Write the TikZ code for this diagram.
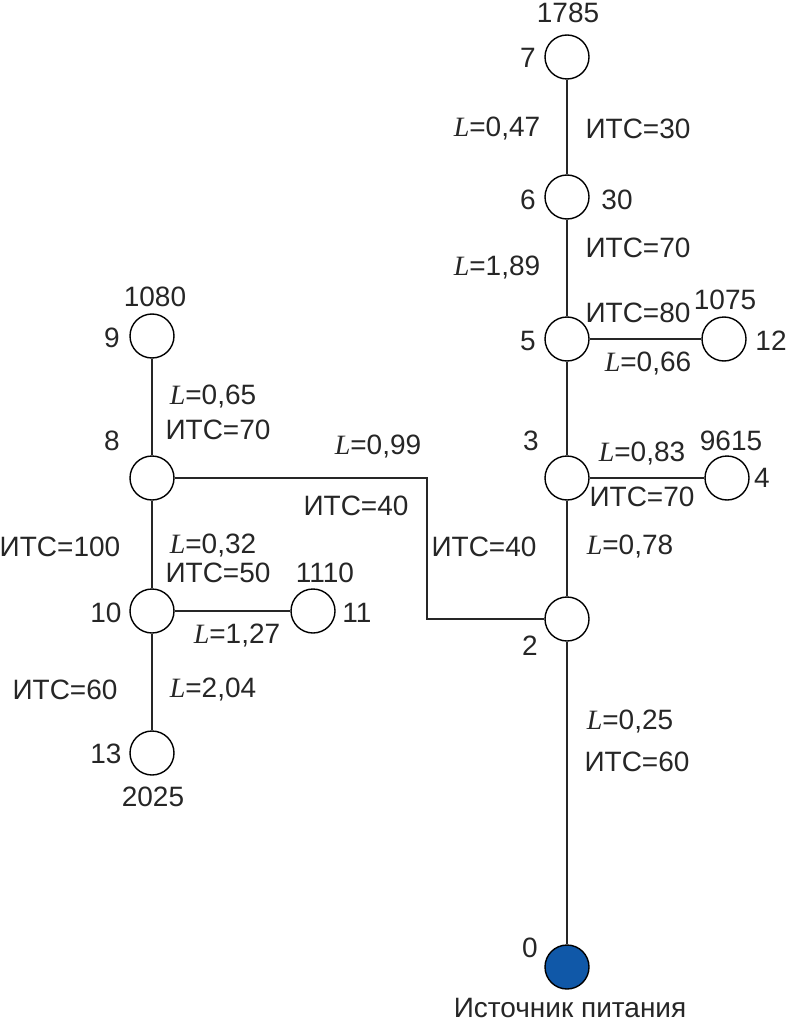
\documentclass[tikz,border=0pt]{standalone}
\usepackage{fontspec}
\setmainfont{Liberation Sans}
\newfontfamily\lserif{Liberation Serif}
\newcommand{\Lv}{{\lserif\itshape L}}
\definecolor{srcblue}{RGB}{16,88,168}
\begin{document}
\begin{tikzpicture}[x=1pt,y=-1pt,
  nd/.style={circle,draw=black,line width=1.4pt,fill=white,minimum size=44pt,inner sep=0pt},
  src/.style={nd,fill=srcblue},
  lbl/.style={inner sep=0pt,font=\fontsize{28}{32}\selectfont,text=black!85},
  wire/.style={line width=1.4pt,draw=black!85}]
\useasboundingbox (0,0) rectangle (786,1024);
% nodes
\node[nd] (n7) at (567,57) {};
\node[nd] (n6) at (567,197) {};
\node[nd] (n5) at (567,339) {};
\node[nd] (n12) at (724,339) {};
\node[nd] (n3) at (567,478) {};
\node[nd] (n4) at (727,478) {};
\node[nd] (n2) at (567,619) {};
\node[src] (n0) at (567,967) {};
\node[nd] (n9) at (152,336) {};
\node[nd] (n8) at (152,478) {};
\node[nd] (n10) at (152,611) {};
\node[nd] (n11) at (313,611) {};
\node[nd] (n13) at (152,753) {};
\coordinate (b1) at (427,478);
\coordinate (b2) at (427,619);
% wires
\draw[wire] (n7) -- (n6);
\draw[wire] (n6) -- (n5);
\draw[wire] (n5) -- (n12);
\draw[wire] (n5) -- (n3);
\draw[wire] (n3) -- (n4);
\draw[wire] (n3) -- (n2);
\draw[wire] (n2) -- (n0);
\draw[wire] (n9) -- (n8);
\draw[wire] (n8) -- (n10);
\draw[wire] (n10) -- (n11);
\draw[wire] (n10) -- (n13);
\draw[wire] (n8) -- (b1) -- (b2) -- (n2);
% labels
\node[lbl] (t1785) at (568,13) {1785};
\node[lbl] (t7) at (528,58) {7};
\node[lbl] (tL047) at (497,129) {\Lv=0,47};
\node[lbl] (tI30) at (638,129) {ИТС=30};
\node[lbl] (t6) at (528,200) {6};
\node[lbl] (t30) at (617,200) {30};
\node[lbl] (tI70a) at (638,248) {ИТС=70};
\node[lbl] (tL189) at (497,268) {\Lv=1,89};
\node[lbl] (tI80) at (638,313) {ИТС=80};
\node[lbl] (t1075) at (725,300) {1075};
\node[lbl] (t5) at (528,341) {5};
\node[lbl] (t12) at (771,341) {12};
\node[lbl] (tL066) at (648,364) {\Lv=0,66};
\node[lbl] (t3) at (531,441) {3};
\node[lbl] (tL083) at (642,454) {\Lv=0,83};
\node[lbl] (t9615) at (731,441) {9615};
\node[lbl] (t4) at (762,478) {4};
\node[lbl] (tI70b) at (642,497) {ИТС=70};
\node[lbl] (tL078) at (630,547) {\Lv=0,78};
\node[lbl] (tI40r) at (484,547) {ИТС=40};
\node[lbl] (t2) at (530,646) {2};
\node[lbl] (tL025) at (630,722) {\Lv=0,25};
\node[lbl] (tI60r) at (637,762) {ИТС=60};
\node[lbl] (t0) at (530,948) {0};
\node[lbl] (tsrc) at (570,1008) {Источник питания};
\node[lbl] (t1080) at (155,297) {1080};
\node[lbl] (t9) at (112,338) {9};
\node[lbl] (tL065) at (213,397) {\Lv=0,65};
\node[lbl] (tI70c) at (218,430) {ИТС=70};
\node[lbl] (t8) at (112,441) {8};
\node[lbl] (tL099) at (378,447) {\Lv=0,99};
\node[lbl] (tI40l) at (356,506) {ИТС=40};
\node[lbl] (tI100) at (60,547) {ИТС=100};
\node[lbl] (tL032) at (213,546) {\Lv=0,32};
\node[lbl] (tI50) at (218,573) {ИТС=50};
\node[lbl] (t1110) at (325,573) {1110};
\node[lbl] (t10) at (106,613) {10};
\node[lbl] (t11) at (357,613) {11};
\node[lbl] (tL127) at (237,636) {\Lv=1,27};
\node[lbl] (tI60l) at (65,690) {ИТС=60};
\node[lbl] (tL204) at (213,690) {\Lv=2,04};
\node[lbl] (t13) at (106,754) {13};
\node[lbl] (t2025) at (153,797) {2025};
\end{tikzpicture}
\end{document}
